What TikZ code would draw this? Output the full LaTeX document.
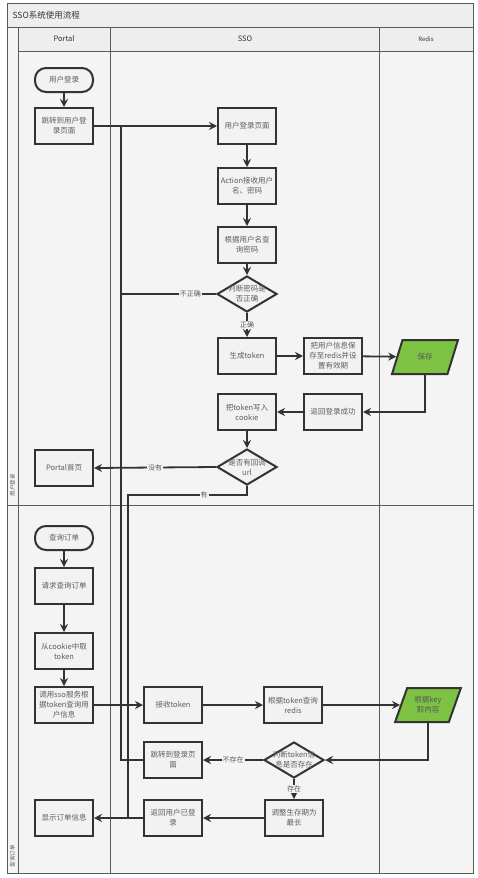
\documentclass[tikz,border=0pt]{standalone}
\usepackage{fontspec}
\setmainfont{Noto Sans CJK SC}
\usepackage{xcolor}
\usepackage{tikz}
\usetikzlibrary{shapes.geometric,arrows.meta,calc}

\definecolor{linec}{HTML}{333333}
\definecolor{framec}{HTML}{5A5A5A}
\definecolor{boxc}{HTML}{F2F2F2}
\definecolor{textc}{HTML}{5E5E5E}
\definecolor{bgc}{HTML}{F5F4F4}
\definecolor{headc}{HTML}{EEEEEE}
\definecolor{greenc}{HTML}{7DC242}

\tikzset{
  boxfont/.style={font=\fontsize{7.5}{10}\selectfont},
  box/.style={draw=linec, line width=2pt, fill=boxc, minimum width=58, minimum height=36,
    inner sep=1pt, align=center, text=textc, boxfont},
  term/.style={box, rounded corners=11, minimum height=24},
  decide/.style={diamond, draw=linec, line width=2pt, fill=boxc, minimum width=60,
    minimum height=36, inner sep=0pt},
  dtext/.style={align=center, text=textc, boxfont},
  io/.style={trapezium, trapezium left angle=66, trapezium right angle=114,
    trapezium stretches=true, draw=linec, line width=2pt, fill=greenc,
    minimum width=66, minimum height=34, inner sep=1pt, align=center, text=black!65, boxfont},
  flow/.style={draw=linec, line width=1.8pt, -{Stealth[length=8pt,width=8pt]}},
  bus/.style={draw=linec, line width=1.8pt},
  lab/.style={fill=bgc, inner sep=1pt, text=textc, font=\fontsize{7}{8}\selectfont},
  lane/.style={draw=framec, line width=0.8pt},
}

\begin{document}
\begin{tikzpicture}[x=1pt, y=-1pt]

\useasboundingbox (0,0) rectangle (477,878);

% Pool and lanes
\fill[white] (0,0) rectangle (477,878);
\fill[bgc] (7,3) rectangle (473,873);
\fill[headc] (7,3) rectangle (473,27);
\fill[headc] (18,27) rectangle (473,51);
\draw[lane] (7,3) rectangle (473,873);
\draw[lane] (7,27) -- (473,27);
\draw[lane] (18,51) -- (473,51);
\draw[lane] (18,27) -- (18,873);
\draw[lane] (110,27) -- (110,873);
\draw[lane] (379,27) -- (379,873);
\draw[lane] (7,505) -- (473,505);

\node[anchor=west, text=black!80, font=\fontsize{8.5}{10}\selectfont] (title) at (9,15) {SSO系统使用流程};
\node[text=black!80, font=\fontsize{7.5}{9}\selectfont] (hPortal) at (64,39) {Portal};
\node[text=black!80, font=\fontsize{7.5}{9}\selectfont] (hSso) at (245,39) {SSO};
\node[text=black!80, font=\fontsize{6}{7}\selectfont] (hRedis) at (426,39) {Redis};
\node[rotate=90, text=textc, font=\fontsize{5.5}{6}\selectfont] (laneLogin) at (12.5,485) {用户登录};
\node[rotate=90, text=textc, font=\fontsize{5.5}{6}\selectfont] (laneOrder) at (12.5,856) {查询订单};

% Bus lines on the Portal/SSO border
\coordinate (busA) at (121,126);
\coordinate (busB) at (128,495);

% Login flow
\node[term] (login) at (64,80) {用户登录};
\node[box] (toLogin) at (64,126) {跳转到用户登\\录页面};
\node[box] (ssoPage) at (247,126) {用户登录页面};
\node[box] (action) at (247,186) {Action接收用户\\名、密码};
\node[box] (query) at (247,245) {根据用户名查\\询密码};
\node[decide] (chkPwd) at (247,294) {};
\node[dtext] (chkPwdT) at (chkPwd) {判断密码是\\否正确};
\node[box] (genTok) at (247,356) {生成token};
\node[box] (saveInfo) at (333,356) {把用户信息保\\存至redis并设\\置有效期};
\node[io] (save) at (425,357) {保存};
\node[box] (retOk) at (333,412) {返回登录成功};
\node[box] (writeCk) at (247,412) {把token写入\\cookie};
\node[decide] (chkUrl) at (247,467) {};
\node[dtext] (chkUrlT) at (chkUrl) {是否有回调\\url};
\node[box] (home) at (64,468) {Portal首页};

% Order flow
\node[term] (order) at (64,538) {查询订单};
\node[box] (reqOrder) at (64,586) {请求查询订单};
\node[box] (getCk) at (64,651) {从cookie中取\\token};
\node[box] (callSso) at (64,705) {调用sso服务根\\据token查询用\\户信息};
\node[box] (recvTok) at (173,705) {接收token};
\node[box] (qRedis) at (293,705) {根据token查询\\redis};
\node[io] (getKey) at (428,705) {根据key\\取内容};
\node[decide] (chkTok) at (294,760) {};
\node[dtext] (chkTokT) at (chkTok) {判断token信\\息是否存在};
\node[box] (jumpLogin) at (173,760) {跳转到登录页\\面};
\node[box] (extend) at (294,818) {调整生存期为\\最长};
\node[box] (retLogged) at (173,818) {返回用户已登\\录};
\node[box] (showOrder) at (64,818) {显示订单信息};

% Straight connectors
\foreach \a/\b in {login/toLogin, toLogin/ssoPage, ssoPage/action, action/query, query/chkPwd,
    genTok/saveInfo, saveInfo/save, retOk/writeCk, writeCk/chkUrl,
    order/reqOrder, reqOrder/getCk, getCk/callSso, callSso/recvTok, recvTok/qRedis,
    qRedis/getKey, extend/retLogged, retLogged/showOrder}
  \draw[flow] (\a) -- (\b);

% Labelled and bent connectors
\draw[flow] (chkPwd) -- node[lab] {正确} (genTok);
\draw[bus] (chkPwd.west) -- node[lab, pos=0.27] {不正确} (chkPwd -| busA) -- (busA);
\draw[flow] (save.south) |- (retOk.east);
\draw[flow] (chkUrl.west) -- node[lab] {没有} (home.east);
\draw[bus] (chkUrl.south) |- node[lab, pos=0.68] {有} (busB) -- (busB |- showOrder);
\draw[flow] (getKey.south) |- (chkTok.east);
\draw[flow] (chkTok.west) -- node[lab] {不存在} (jumpLogin.east);
\draw[flow] (chkTok.south) -- node[lab] {存在} (extend.north);
\draw[bus] (jumpLogin.west) -- (jumpLogin -| busA) -- (busA);

\end{tikzpicture}
\end{document}
